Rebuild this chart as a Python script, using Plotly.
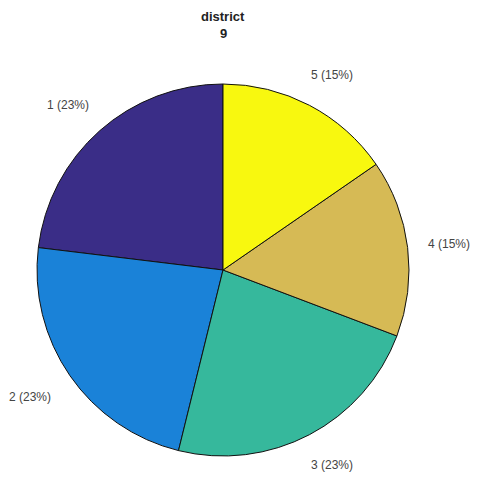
import math
import plotly.graph_objects as go

categories = ["1", "2", "3", "4", "5"]
counts = [3, 3, 3, 2, 2]
colors = ["#3a2d87", "#1a82d8", "#36b89c", "#d6ba55", "#f8f80f"]
title_lines = ["district", "9"]

# page is 482x483; the HTML body adds an 8px margin around the figure
PAGE_W, PAGE_H, M = 482, 483, 8
W, H = PAGE_W - 2 * M, PAGE_H - 2 * M
cx, cy, R = 223, 270, 186


def px(x):
    return (x - M) / W


def py(y):
    return 1 - (y - M) / H


total = sum(counts)
first_deg = counts[0] / total * 360

fig = go.Figure(go.Pie(
    labels=categories,
    values=counts,
    sort=False,
    direction="counterclockwise",
    rotation=-first_deg,
    marker=dict(colors=colors, line=dict(color="#111111", width=1)),
    textinfo="none",
    hoverinfo="label+percent",
    showlegend=False,
    domain=dict(x=[px(cx - R), px(cx + R)], y=[py(cy + R), py(cy - R)]),
))

start = 90.0
annotations = []
for lab, v in zip(categories, counts):
    frac = v / total
    mid = start + frac * 360 / 2
    start += frac * 360
    a = math.radians(mid)
    lx = min(cx + 1.26 * R * math.cos(a), W + M - 25)
    ly = min(cy + 1 - 1.19 * R * math.sin(a), H + M - 10)
    annotations.append(dict(
        x=px(lx), y=py(ly), xref="paper", yref="paper",
        text=f"{lab} ({round(frac * 100)}%)", showarrow=False,
        font=dict(family="Liberation Sans, Arial", size=12, color="#444444"),
        xanchor="center", yanchor="middle",
    ))

for i, line in enumerate(title_lines):
    annotations.append(dict(
        x=px(cx), y=py(16 + 18 * i), xref="paper", yref="paper",
        text="<b>" + line + "</b>", showarrow=False,
        font=dict(family="Liberation Sans, Arial", size=13, color="#222222"),
        xanchor="center", yanchor="middle",
    ))

fig.update_layout(
    width=W, height=H,
    margin=dict(l=0, r=0, t=0, b=0),
    paper_bgcolor="white", plot_bgcolor="white",
    annotations=annotations,
)

fig.write_html("out.html")
